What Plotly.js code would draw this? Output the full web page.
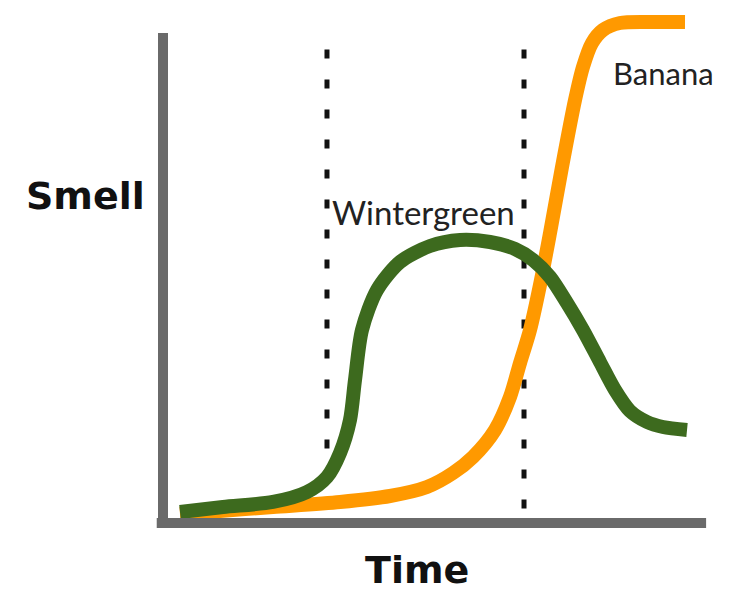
<!DOCTYPE html>
<html>
<head>
<meta charset="utf-8">
<script src="https://cdn.plot.ly/plotly-3.0.1.min.js"></script>
<style>html,body{margin:0;padding:0;background:#fff;}#chart{width:744px;height:600px;}</style>
</head>
<body>
<div id="chart"></div>
<script>
// Time (0-100) and smell intensity (0-100)
const wintergreenTime  = [3.67, 11.56, 20.73, 26.97, 30.64, 33.03, 34.86, 35.78, 37.06, 39.82, 44.04, 49.54, 55.05, 60.55, 65.14, 68.44, 71.56, 74.68, 77.61, 80.73, 83.49, 86.24, 89.36, 92.29, 96.70];
const wintergreenSmell = [2.05, 3.08, 4.11, 6.16, 9.24, 14.17, 20.94, 29.16, 39.43, 47.64, 53.39, 56.67, 57.91, 57.49, 56.06, 53.80, 50.31, 44.97, 39.43, 32.85, 27.10, 22.79, 20.53, 19.51, 18.89];

const bananaTime  = [3.67, 11.01, 20.73, 33.03, 42.20, 48.99, 53.76, 57.43, 61.47, 64.22, 66.06, 67.89, 69.91, 71.56, 73.76, 76.15, 77.61, 79.27, 81.28, 84.40, 89.91, 96.33];
const bananaSmell = [1.64, 2.26, 3.08, 4.11, 5.34, 7.19, 10.06, 13.35, 18.89, 25.67, 32.65, 39.43, 49.69, 59.34, 72.90, 86.65, 93.43, 98.36, 101.03, 102.46, 102.67, 102.67];

const phaseBoundaries = [30.64, 66.79];   // dotted vertical lines (time)
const phaseTop = 97;

const seriesLabels = {wintergreen: "Wintergreen", banana: "Banana"};
const labelPos = {wintergreen: [48.4, 63.7], banana: [92.3, 92.2]};
const axisLabels = {x: "Time", y: "Smell"};

const traces = [];
phaseBoundaries.forEach(t => {
  traces.push({
    x: [t, t], y: [phaseTop, 0], mode: "lines", hoverinfo: "skip",
    line: {color: "#111", width: 5, dash: "9px,21px"}
  });
});
traces.push({
  x: bananaTime, y: bananaSmell, mode: "lines",
  line: {color: "#ff9900", width: 14, shape: "spline", smoothing: 0.8}
});
traces.push({
  x: wintergreenTime, y: wintergreenSmell, mode: "lines",
  line: {color: "#3d6a1e", width: 14, shape: "spline", smoothing: 0.8}
});

const layout = {
  width: 744, height: 600,
  margin: {l: 150, r: 30, t: 10, b: 70},
  paper_bgcolor: "#fff", plot_bgcolor: "#fff",
  showlegend: false,
  xaxis: {range: [-1.835, 101.65], showgrid: false, zeroline: false, showticklabels: false, ticks: "", showline: false},
  yaxis: {range: [-1.643, 105.13], showgrid: false, zeroline: false, showticklabels: false, ticks: "", showline: false},
  shapes: [
    {type: "line", xref: "x", yref: "y", x0: 0.55, x1: 0.55, y0: 100.4, y1: -1.0, line: {color: "#6a6a6a", width: 10}},
    {type: "line", xref: "x", yref: "y", x0: -0.6, x1: 100.2, y0: -0.2, y1: -0.2, line: {color: "#6a6a6a", width: 10}}
  ],
  annotations: [
    {text: seriesLabels.wintergreen, x: labelPos.wintergreen[0], y: labelPos.wintergreen[1], xref: "x", yref: "y", showarrow: false,
     xanchor: "center", yanchor: "middle", font: {family: "Lato", size: 33, color: "#222"}},
    {text: seriesLabels.banana, x: labelPos.banana[0], y: labelPos.banana[1], xref: "x", yref: "y", showarrow: false,
     xanchor: "center", yanchor: "middle", font: {family: "Lato", size: 31, color: "#222"}},
    {text: axisLabels.y, x: -0.1152, y: 0.6423, xref: "paper", yref: "paper", showarrow: false,
     xanchor: "center", yanchor: "middle", font: {family: "DejaVu Sans", size: 38, color: "#111", weight: "bold"}},
    {text: axisLabels.x, x: 0.4734, y: -0.0769, xref: "paper", yref: "paper", showarrow: false,
     xanchor: "center", yanchor: "middle", font: {family: "DejaVu Sans", size: 38, color: "#111", weight: "bold"}}
  ]
};

Plotly.newPlot("chart", traces, layout, {displayModeBar: false, staticPlot: true});
</script>
</body>
</html>
